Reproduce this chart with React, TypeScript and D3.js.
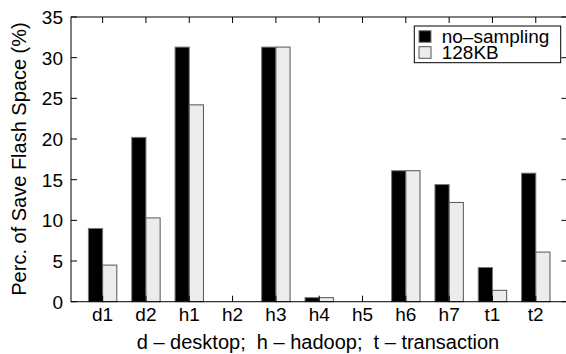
import React from "react";
import * as d3 from "d3";

const categories = ["d1", "d2", "h1", "h2", "h3", "h4", "h5", "h6", "h7", "t1", "t2"];
const noSampling = [9.0, 20.2, 31.3, 0, 31.3, 0.5, 0, 16.1, 14.4, 4.2, 15.8];
const kb128 = [4.5, 10.3, 24.2, 0, 31.3, 0.5, 0, 16.1, 12.2, 1.4, 6.1];
const yTicks = [0, 5, 10, 15, 20, 25, 30, 35];

const W = 566;
const H = 354;
const left = 71;
const right = 567.4;
const top = 17;
const bottom = 301.7;
const font = "'Liberation Sans', Arial, Helvetica, sans-serif";

export default function App() {
  const x = d3.scaleLinear().domain([-0.73, 10.73]).range([left, right]);
  const y = d3.scaleLinear().domain([0, 35]).range([bottom, top]);
  const bw = 14.2;
  const tl = 6;

  return (
    <svg width={W} height={H} style={{ position: "absolute", left: 0, top: 0 }} fontFamily={font}>
      <rect x={0} y={0} width={W} height={H} fill="white" />
      {categories.map((c, i) => (
        <g key={c}>
          <rect x={x(i) - bw} y={y(noSampling[i])} width={bw} height={bottom - y(noSampling[i])}
            fill="black" stroke="#777" strokeWidth={1} />
          <rect x={x(i)} y={y(kb128[i])} width={bw} height={bottom - y(kb128[i])}
            fill="#ececec" stroke="#555" strokeWidth={1} />
        </g>
      ))}
      {/* frame */}
      <rect x={left} y={top} width={right - left} height={bottom - top} fill="none" stroke="black" strokeWidth={1} />
      {/* y ticks */}
      {yTicks.map((t) => (
        <g key={t}>
          <line x1={left} x2={left + tl} y1={y(t)} y2={y(t)} stroke="black" />
          <line x1={right - tl} x2={right} y1={y(t)} y2={y(t)} stroke="black" />
          <text x={63} y={y(t)} dy="0.36em" textAnchor="end" fontSize={19}>{t}</text>
        </g>
      ))}
      {/* x ticks */}
      {categories.map((c, i) => (
        <g key={c}>
          <line x1={x(i)} x2={x(i)} y1={bottom} y2={bottom - tl} stroke="black" />
          <line x1={x(i)} x2={x(i)} y1={top} y2={top + tl} stroke="black" />
          <text x={x(i)} y={321} textAnchor="middle" fontSize={19}>{c}</text>
        </g>
      ))}
      <text x={318} y={349} textAnchor="middle" fontSize={20} xmlSpace="preserve" style={{ whiteSpace: "pre" }}>
        {"d – desktop;  h – hadoop;  t – transaction"}
      </text>
      <text transform="translate(26,159) rotate(-90)" textAnchor="middle" fontSize={20}>Perc. of Save Flash Space (%)</text>
      {/* legend */}
      <rect x={414.3} y={26} width={146.4} height={36.7} fill="white" stroke="black" strokeWidth={1} />
      <rect x={419} y={30.7} width={12} height={11.6} fill="black" stroke="#777" />
      <rect x={419} y={46.7} width={12} height={11.6} fill="#ececec" stroke="#555" />
      <text x={441.7} y={43} fontSize={19}>no–sampling</text>
      <text x={441.7} y={59} fontSize={19}>128KB</text>
    </svg>
  );
}
